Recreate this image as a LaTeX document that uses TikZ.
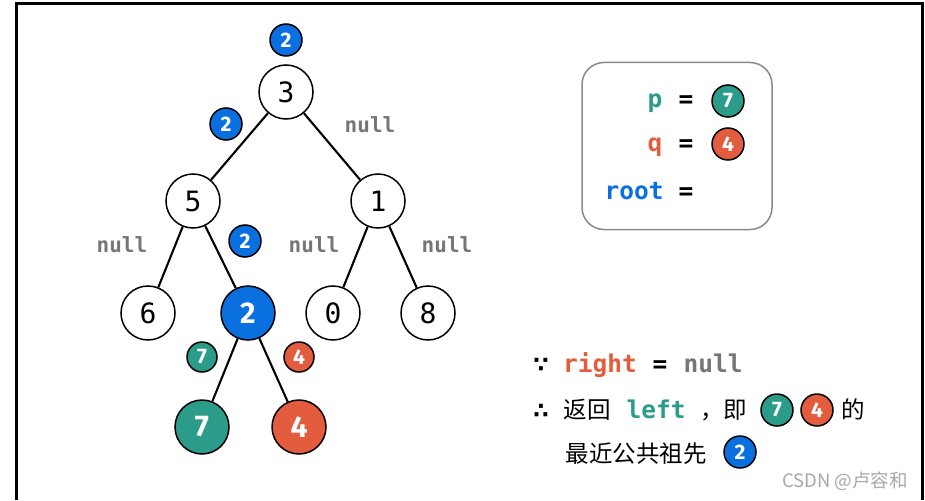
\documentclass[tikz,border=0pt]{standalone}
\usepackage{fontspec}
\setmainfont{DejaVu Sans}
\newfontfamily\monofont{DejaVu Sans Mono}
\newfontfamily\badgefont{Fira Sans}
\newfontfamily\cjk{Noto Sans CJK SC}
\definecolor{cblue}{HTML}{0A70E0}
\definecolor{cteal}{HTML}{2A9C89}
\definecolor{corange}{HTML}{E35C3D}
\definecolor{cgray}{HTML}{767676}
\definecolor{cbox}{HTML}{8A8A8A}
\definecolor{cwm}{HTML}{A8A8A8}
\tikzset{
  tnode/.style={circle, draw=black, line width=1.5pt, fill=white, minimum size=54pt, inner sep=0pt, font=\monofont\fontsize{28}{28}\selectfont},
  bignode/.style={tnode, text=white, font=\badgefont\bfseries\fontsize{30}{30}\selectfont},
  badge/.style={circle, draw=black, line width=1.5pt, minimum size=32pt, inner sep=0pt, text=white, font=\badgefont\bfseries\fontsize{21}{21}\selectfont},
  nulltxt/.style={text=cgray, font=\monofont\bfseries\fontsize{21}{21}\selectfont, inner sep=0pt},
  codetxt/.style={font=\monofont\bfseries\fontsize{24.5}{24.5}\selectfont, inner sep=0pt},
  cjktxt/.style={font=\cjk\fontsize{23.5}{23.5}\selectfont, inner sep=0pt},
  symtxt/.style={font=\bfseries\fontsize{22}{22}\selectfont, inner sep=0pt},
  edge/.style={line width=2.1pt, black},
}
\begin{document}
\begin{tikzpicture}[x=1pt, y=-1pt]
\useasboundingbox (0,0) rectangle (925,500);
% frame
\draw[line width=3pt, black] (16,500) -- (16,4) -- (922,4) -- (922,500);
% tree nodes
\node[tnode] (n3) at (286,92) {3};
\node[tnode] (n5) at (193,201) {5};
\node[tnode] (n1) at (378,201) {1};
\node[tnode] (n6) at (148,313) {6};
\node[bignode, fill=cblue] (n2) at (248,313) {2};
\node[tnode] (n0) at (333,313) {0};
\node[tnode] (n8) at (428,313) {8};
\node[bignode, fill=cteal] (n7) at (202,427) {7};
\node[bignode, fill=corange] (n4) at (299,427) {4};
% edges
\draw[edge] (n3) -- (n5);
\draw[edge] (n3) -- (n1);
\draw[edge] (n5) -- (n6);
\draw[edge] (n5) -- (n2);
\draw[edge] (n1) -- (n0);
\draw[edge] (n1) -- (n8);
\draw[edge] (n2) -- (n7);
\draw[edge] (n2) -- (n4);
% badges on tree
\node[badge, fill=cblue] (b3) at (286,40) {2};
\node[badge, fill=cblue] (b35) at (226,124) {2};
\node[badge, fill=cblue] (b52) at (245,241) {2};
\node[badge, fill=cteal, minimum size=30pt] (b27) at (202,357) {7};
\node[badge, fill=corange, minimum size=30pt] (b24) at (299,357) {4};
% null labels
\node[nulltxt] (null31) at (370,125) {null};
\node[nulltxt] (null56) at (122,245) {null};
\node[nulltxt] (null10) at (314,245) {null};
\node[nulltxt] (null18) at (447,245) {null};
% info box
\node[draw=cbox, line width=1.5pt, rounded corners=22pt, minimum width=190pt, minimum height=167pt] (box) at (677,146) {};
\node[codetxt, text=cteal, anchor=base] (p) at (655,108) {p};
\node[codetxt, anchor=base] (peq) at (686,108) {=};
\node[badge, fill=cteal] (pb) at (728,101) {7};
\node[codetxt, text=corange, anchor=base] (q) at (655,151) {q};
\node[codetxt, anchor=base] (qeq) at (686,151) {=};
\node[badge, fill=corange] (qb) at (728,144) {4};
\node[codetxt, text=cblue, anchor=base] (root) at (634,199) {root};
\node[codetxt, anchor=base] (req) at (686,199) {=};
% explanation
\node[symtxt, anchor=base] (because) at (541,372) {∵};
\node[codetxt, text=corange, anchor=base] (right) at (600,372) {right};
\node[codetxt, anchor=base] (req2) at (660,372) {=};
\node[codetxt, text=cgray, anchor=base] (rnull) at (713,372) {null};
\node[symtxt, anchor=base] (therefore) at (541,418) {∴};
\node[cjktxt, anchor=base] (fanhui) at (587,418) {返回};
\node[codetxt, text=cteal, anchor=base] (left) at (656,418) {left};
\node[cjktxt, anchor=base west] (comma) at (700,418) {，};
\node[cjktxt, anchor=base] (ji) at (735,418) {即};
\node[badge, fill=cteal] (eb7) at (777,410) {7};
\node[badge, fill=corange] (eb4) at (817,410) {4};
\node[cjktxt, anchor=base] (de) at (853,418) {的};
\node[cjktxt, anchor=base] (lca) at (636,462) {最近公共祖先};
\node[badge, fill=cblue] (eb2) at (740,452) {2};
% watermark
\node[font=\cjk\fontsize{18.5}{18.5}\selectfont, text=cwm, inner sep=0pt] (wm) at (845,481) {CSDN @卢容和};
\end{tikzpicture}
\end{document}
